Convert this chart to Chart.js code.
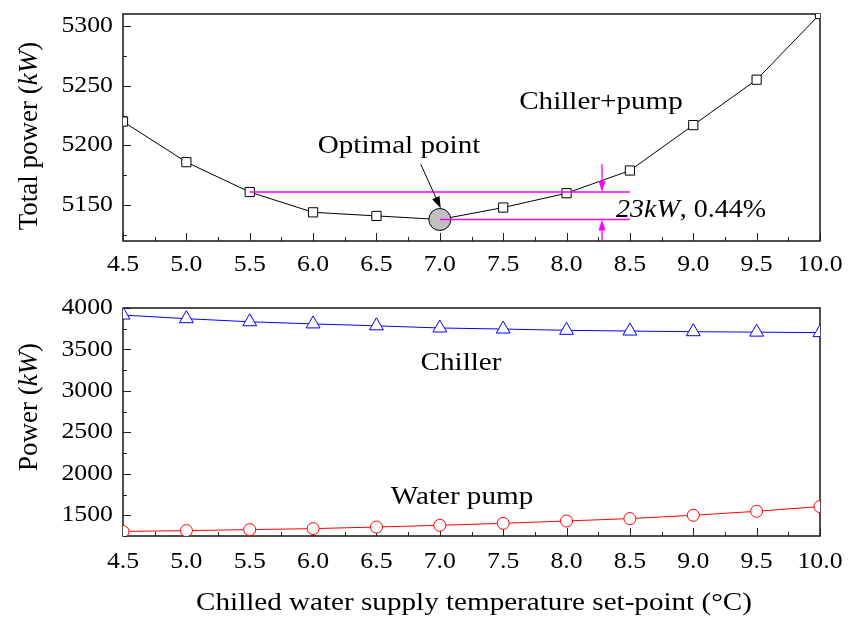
<!DOCTYPE html>
<html>
<head>
<meta charset="utf-8">
<script src="https://cdn.jsdelivr.net/npm/chart.js@4.4.1/dist/chart.umd.min.js"></script>
<style>
  html, body { margin: 0; padding: 0; background: #fff; }
  #wrap { position: relative; width: 849px; height: 617px; }
  .pane { position: absolute; left: 0; width: 849px; }
  .warm { position: absolute; left: -999px; top: 0; font-family: "Liberation Serif"; font-size: 20px; }
</style>
</head>
<body>
<div id="wrap">
  <div class="pane" style="top:0;height:290px"><canvas id="topChart" width="849" height="290"></canvas></div>
  <div class="pane" style="top:290px;height:327px"><canvas id="bottomChart" width="849" height="327"></canvas></div>
</div>
<span class="warm">Aa 0.5 <i>kW</i></span>
<script>
// set-point temperatures (°C)
const setPoints = [4.5, 5.0, 5.5, 6.0, 6.5, 7.0, 7.5, 8.0, 8.5, 9.0, 9.5, 10.0];
// total power, chiller + pump (kW)
const totalPower = [5220, 5186, 5161, 5144, 5141, 5138, 5148, 5160, 5179, 5217, 5255, 5310];
// chiller power (kW)
const chillerPower = [3915, 3871, 3834, 3808, 3785, 3759, 3746, 3731, 3722, 3714, 3709, 3703];
// water pump power (kW)
const pumpPower = [1305, 1315, 1327, 1339, 1358, 1379, 1403, 1431, 1460, 1500, 1548, 1605];

const xTicks = [4.5, 5.0, 5.5, 6.0, 6.5, 7.0, 7.5, 8.0, 8.5, 9.0, 9.5, 10.0];
const topYTicks = [5150, 5200, 5250, 5300];
const bottomYTicks = [1500, 2000, 2500, 3000, 3500, 4000];

// optimal point and the 23 kW band
const optimal = { x: 7.0, y: 5138 };
const bandUpper = [{ x: 5.5, y: 5161 }, { x: 8.5, y: 5161 }];
const bandLower = [{ x: 7.0, y: 5138 }, { x: 8.5, y: 5138 }];
const bandArrowX = 8.28;

const SERIF = '"Liberation Serif", "Times New Roman", serif';
const STRETCH = 1.12;   // the reference type is a little wide

const xy = (xs, ys) => xs.map((x, i) => ({ x, y: ys[i] }));

// draw a run of text pieces (some italic), optionally stretched horizontally
function drawRuns(ctx, runs, x, y, size, align, sx = 1) {
    let total = 0;
    runs.forEach(r => {
        ctx.font = (r.italic ? 'italic ' : '') + size + 'px ' + SERIF;
        r.w = ctx.measureText(r.t).width;
        total += r.w;
    });
    ctx.save();
    ctx.translate(x, y);
    ctx.scale(sx, 1);
    let cx = align === 'center' ? -total / 2 : align === 'right' ? -total : 0;
    ctx.textAlign = 'left';
    runs.forEach(r => {
        ctx.font = (r.italic ? 'italic ' : '') + size + 'px ' + SERIF;
        ctx.fillText(r.t, cx, 0);
        cx += r.w;
    });
    ctx.restore();
}

// frame, inward ticks, tick labels and the y title
const framePlugin = {
    id: 'frame',
    beforeDatasetsDraw(chart, args, opts) {
        const { ctx, chartArea: a, scales } = chart;
        ctx.save();
        ctx.strokeStyle = '#222';
        ctx.lineWidth = 1;
        const xs = scales.x, ys = scales.y;
        for (let v = xs.min; v <= xs.max + 1e-9; v += 0.25) {
            const px = Math.round(xs.getPixelForValue(v)) + 0.5;
            const major = Math.abs(v * 2 - Math.round(v * 2)) < 1e-6;
            ctx.beginPath();
            ctx.moveTo(px, a.bottom);
            ctx.lineTo(px, a.bottom - (major ? 8 : 4));
            ctx.stroke();
        }
        const step = opts.minorStep;
        const start = Math.ceil(ys.min / step) * step;
        for (let v = start; v <= ys.max + 1e-9; v += step) {
            const py = Math.round(ys.getPixelForValue(v)) + 0.5;
            const major = v % (step * 2) === 0;
            ctx.beginPath();
            ctx.moveTo(a.left, py);
            ctx.lineTo(a.left + (major ? 8 : 4), py);
            ctx.stroke();
        }
        ctx.lineWidth = 1.6;
        ctx.strokeRect(a.left, a.top, a.right - a.left, a.bottom - a.top);
        ctx.restore();
    },
    afterDraw(chart, args, opts) {
        const { ctx, chartArea: a, scales: { x, y } } = chart;
        ctx.save();
        ctx.fillStyle = '#000';
        ctx.textBaseline = 'middle';
        xTicks.forEach(v => {
            drawRuns(ctx, [{ t: v.toFixed(1) }], x.getPixelForValue(v), a.bottom + opts.xLabelGap, 23, 'center', STRETCH);
        });
        opts.yTicks.forEach(v => {
            drawRuns(ctx, [{ t: String(v) }], a.left - 10, y.getPixelForValue(v), 23, 'right', STRETCH);
        });
        ctx.translate(opts.titleX, opts.titleY);
        ctx.rotate(-Math.PI / 2);
        drawRuns(ctx, opts.titleRuns, 0, 0, 27, 'center');
        ctx.restore();
    }
};

function arrowHead(ctx, x1, y1, x2, y2, len, half) {
    const ang = Math.atan2(y2 - y1, x2 - x1);
    ctx.beginPath();
    ctx.moveTo(x2, y2);
    ctx.lineTo(x2 - len * Math.cos(ang) + half * Math.sin(ang), y2 - len * Math.sin(ang) - half * Math.cos(ang));
    ctx.lineTo(x2 - len * Math.cos(ang) - half * Math.sin(ang), y2 - len * Math.sin(ang) + half * Math.cos(ang));
    ctx.closePath();
    ctx.fill();
}

const topNotes = {
    id: 'topNotes',
    afterDraw(chart) {
        const { ctx, chartArea: a, scales: { x, y } } = chart;
        ctx.save();
        ctx.fillStyle = '#000';
        ctx.textBaseline = 'middle';
        drawRuns(ctx, [{ t: 'Chiller+pump' }], 601, 102, 26, 'center', STRETCH);
        drawRuns(ctx, [{ t: 'Optimal point' }], 399, 146, 26, 'center', STRETCH);
        drawRuns(ctx, [{ t: '23kW', italic: true }, { t: ', 0.44%' }], 616, 210, 25, 'left', STRETCH);

        // arrow to the optimal point
        const ox = x.getPixelForValue(optimal.x), oy = y.getPixelForValue(optimal.y);
        const sx = ox - 19, sy = oy - 55;
        const ex = ox + 1, ey = oy - 11;
        ctx.strokeStyle = '#000';
        ctx.lineWidth = 1;
        ctx.beginPath();
        ctx.moveTo(sx, sy);
        ctx.lineTo(ex - (ex - sx) * 0.15, ey - (ey - sy) * 0.15);
        ctx.stroke();
        arrowHead(ctx, sx, sy, ex, ey, 12, 4);

        // magenta 23 kW arrows
        const mx = x.getPixelForValue(bandArrowX);
        const yUp = y.getPixelForValue(bandUpper[0].y);
        const yLo = y.getPixelForValue(bandLower[0].y);
        ctx.strokeStyle = '#ff00ff';
        ctx.fillStyle = '#ff00ff';
        ctx.lineWidth = 1.3;
        ctx.beginPath();
        ctx.moveTo(mx, yUp - 28);
        ctx.lineTo(mx, yUp - 8);
        ctx.stroke();
        arrowHead(ctx, mx, yUp - 28, mx, yUp, 11, 3.5);
        ctx.beginPath();
        ctx.moveTo(mx, a.bottom);
        ctx.lineTo(mx, yLo + 8);
        ctx.stroke();
        arrowHead(ctx, mx, a.bottom, mx, yLo, 11, 3.5);
        ctx.restore();
    }
};

const bottomNotes = {
    id: 'bottomNotes',
    afterDraw(chart) {
        const { ctx } = chart;
        ctx.save();
        ctx.fillStyle = '#000';
        ctx.textBaseline = 'middle';
        drawRuns(ctx, [{ t: 'Chiller' }], 461, 73, 26, 'center', STRETCH);
        drawRuns(ctx, [{ t: 'Water pump' }], 462, 207, 26, 'center', STRETCH);
        drawRuns(ctx, [{ t: 'Chilled water supply temperature set-point (°C)' }], 474, 313, 26, 'center', STRETCH);
        ctx.restore();
    }
};

function xScale(height) {
    return {
        type: 'linear',
        min: 4.5,
        max: 10.0,
        grid: { display: false },
        border: { display: false },
        ticks: { display: false },
        afterFit: s => { s.height = height; }
    };
}

function yScale(min, max) {
    return {
        type: 'linear',
        min,
        max,
        grid: { display: false },
        border: { display: false },
        ticks: { display: false },
        afterFit: s => { s.width = 123; }
    };
}

const common = {
    responsive: false,
    animation: false,
    devicePixelRatio: 1,
    plugins: { legend: { display: false }, tooltip: { enabled: false } }
};

function buildCharts() {
    new Chart(document.getElementById('topChart').getContext('2d'), {
        type: 'line',
        data: {
            datasets: [
                { data: bandUpper, borderColor: '#ff00ff', borderWidth: 1.5, pointRadius: 0, order: 0 },
                { data: bandLower, borderColor: '#ff00ff', borderWidth: 1.5, pointRadius: 0, order: 0 },
                {
                    data: [optimal], showLine: false, pointRadius: 11,
                    pointBackgroundColor: '#c0c0c0', pointBorderColor: '#000', pointBorderWidth: 1, order: 1
                },
                {
                    data: xy(setPoints, totalPower), borderColor: '#000', borderWidth: 1,
                    pointStyle: 'rect', pointRadius: 6.5, pointBackgroundColor: '#fff',
                    pointBorderColor: '#000', pointBorderWidth: 1, order: 2
                }
            ]
        },
        options: {
            ...common,
            layout: { padding: { top: 14, right: 29, left: 0, bottom: 0 } },
            scales: { x: xScale(49), y: yScale(5120, 5310) },
            plugins: {
                ...common.plugins,
                frame: {
                    minorStep: 25, yTicks: topYTicks, xLabelGap: 24, titleX: 30, titleY: 136,
                    titleRuns: [{ t: 'Total power (' }, { t: 'kW', italic: true }, { t: ')' }]
                }
            }
        },
        plugins: [framePlugin, topNotes]
    });

    new Chart(document.getElementById('bottomChart').getContext('2d'), {
        type: 'line',
        data: {
            datasets: [
                {
                    data: xy(setPoints, chillerPower), borderColor: '#0000ff', borderWidth: 1,
                    pointStyle: 'triangle', pointRadius: 8, pointBackgroundColor: '#fff',
                    pointBorderColor: '#0000ff', pointBorderWidth: 1
                },
                {
                    data: xy(setPoints, pumpPower), borderColor: '#ff0000', borderWidth: 1,
                    pointStyle: 'circle', pointRadius: 6, pointBackgroundColor: '#fff',
                    pointBorderColor: '#ff0000', pointBorderWidth: 1
                }
            ]
        },
        options: {
            ...common,
            layout: { padding: { top: 18, right: 29, left: 0, bottom: 0 } },
            scales: { x: xScale(81), y: yScale(1250, 4000) },
            plugins: {
                ...common.plugins,
                frame: {
                    minorStep: 250, yTicks: bottomYTicks, xLabelGap: 26, titleX: 30, titleY: 117,
                    titleRuns: [{ t: 'Power (' }, { t: 'kW', italic: true }, { t: ')' }]
                }
            }
        },
        plugins: [framePlugin, bottomNotes]
    });
}

Promise.all([
    document.fonts.load('24px "Liberation Serif"'),
    document.fonts.load('italic 24px "Liberation Serif"')
]).catch(() => {}).then(buildCharts);
</script>
</body>
</html>
